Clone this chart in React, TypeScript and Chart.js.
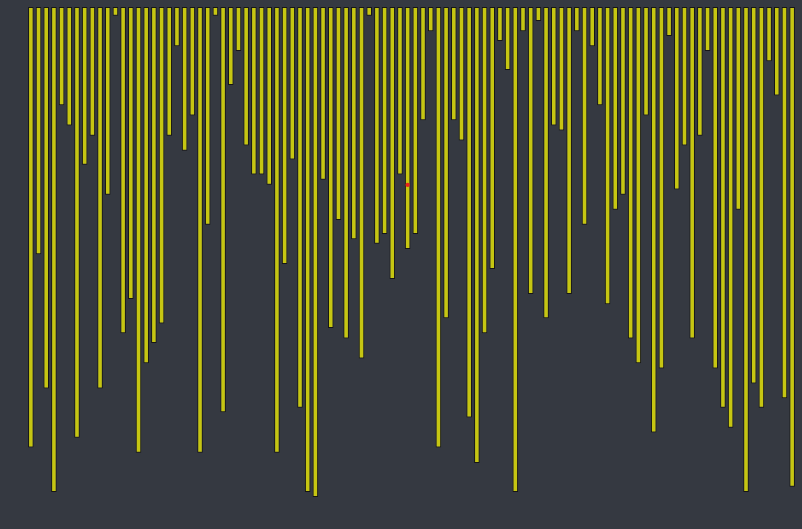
import { useEffect, useRef } from 'react';
import { Chart, registerables } from 'chart.js';

Chart.register(...registerables);

// depth of each hanging bar, 0 (top edge) .. 100 (bottom edge)
const DEPTHS = [
  85.2, 47.8, 73.8, 93.8, 19.0, 22.9, 83.3, 30.5, 24.9, 73.8,
  36.3, 1.7, 63.1, 56.5, 86.2, 68.9, 65.0, 61.2, 24.9, 7.6,
  27.8, 21.0, 86.2, 42.1, 1.7, 78.4, 15.1, 8.5, 26.8, 32.4,
  32.4, 34.4, 86.2, 49.7, 29.5, 77.5, 93.8, 94.8, 33.4, 62.1,
  41.2, 64.1, 44.9, 68.0, 1.7, 45.8, 43.9, 52.6, 32.4, 46.8,
  43.9, 21.9, 4.7, 85.2, 60.2, 21.9, 25.8, 79.4, 88.2, 63.1,
  50.7, 6.6, 12.2, 93.8, 4.7, 55.5, 2.7, 60.2, 22.9, 23.9,
  55.5, 4.7, 42.1, 7.6, 19.0, 57.5, 39.2, 36.3, 64.1, 68.9,
  21.0, 82.3, 69.9, 5.6, 35.3, 26.8, 64.1, 24.9, 8.5, 69.9,
  77.5, 81.4, 39.2, 93.8, 72.8, 77.5, 10.5, 17.1, 75.7, 92.8,
];
const LABELS = DEPTHS.map((_, i) => `${i + 1}`);

// single highlighted point
const MARKER_INDEX = 49;
const MARKER_VALUE = 34.4;

export default function App() {
  const ref = useRef<HTMLCanvasElement>(null);
  const chart = useRef<Chart | null>(null);

  useEffect(() => {
    if (!ref.current) return;
    const marker = LABELS.map((_, i) => (i === MARKER_INDEX ? MARKER_VALUE : null));

    chart.current?.destroy();
    chart.current = new Chart(ref.current, {
      type: 'bar',
      data: {
        labels: LABELS,
        datasets: [
          {
            type: 'line',
            data: marker,
            showLine: false,
            pointRadius: 2.2,
            pointBorderWidth: 0,
            pointBackgroundColor: '#e8231c',
            borderColor: '#e8231c',
          },
          {
            type: 'bar',
            data: DEPTHS,
            backgroundColor: '#c6c612',
            borderColor: '#161616',
            borderWidth: 1,
            borderSkipped: false,
          },
        ],
      },
      options: {
        responsive: true,
        maintainAspectRatio: false,
        animation: false,
        devicePixelRatio: 1,
        layout: { padding: { left: 27, right: 6, top: 7, bottom: 5 } },
        plugins: { legend: { display: false }, tooltip: { enabled: false } },
        scales: {
          x: { display: false },
          y: { display: false, reverse: true, min: 0, max: 100 },
        },
      },
    });

    return () => { chart.current?.destroy(); };
  }, []);

  return (
    <div style={{ position: 'fixed', inset: 0, background: '#353941' }}>
      <canvas ref={ref} />
    </div>
  );
}
